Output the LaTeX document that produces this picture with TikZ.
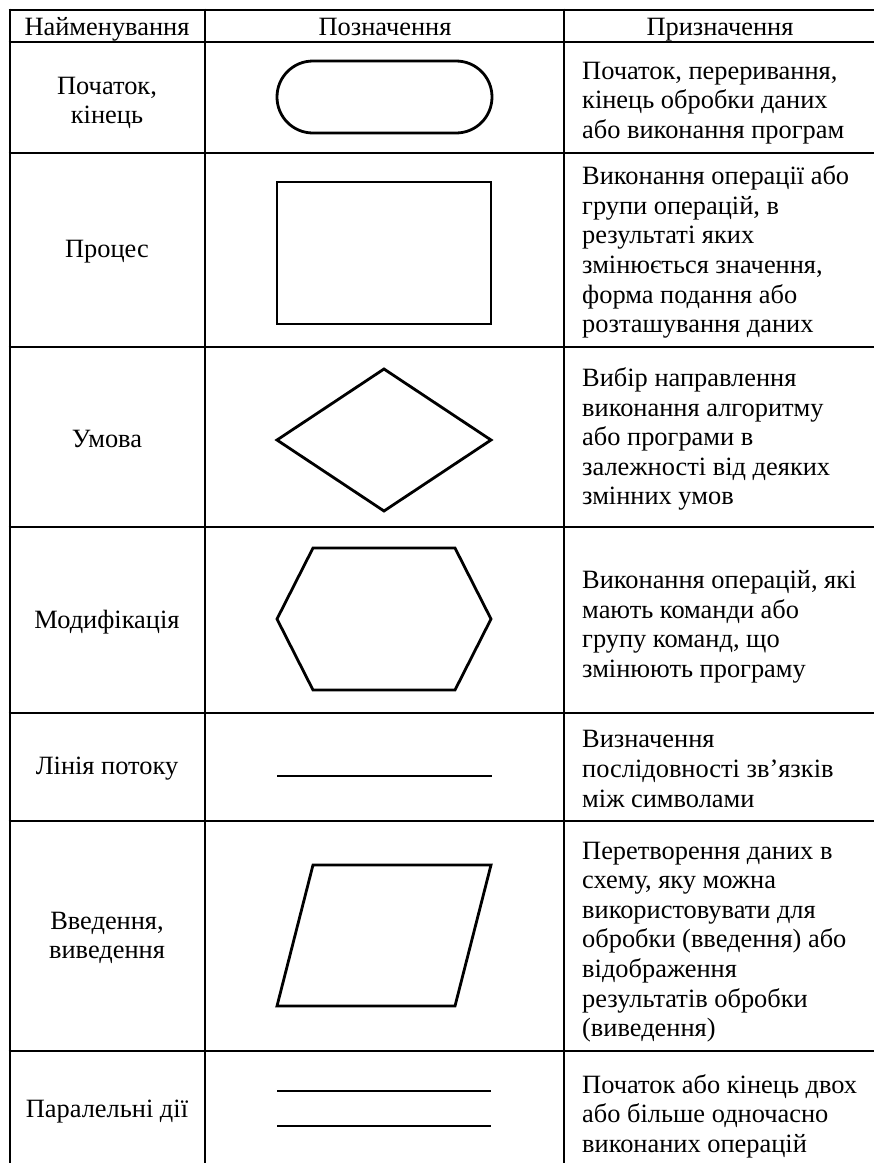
\documentclass[tikz,border=0pt]{standalone}
\usepackage{fontspec}
\setmainfont{Liberation Serif}
\usetikzlibrary{positioning}
\tikzset{
rule/.style={line width=2.8pt},
symbol/.style={draw, line width=2.8pt, line join=miter},
cell/.style={font=\fontsize{26.4}{29.6}\selectfont, inner sep=0pt},
title/.style={cell, align=center},
head/.style={cell, anchor=base},
purpose/.style={cell, align=left, anchor=west},
}

\begin{document}
\begin{tikzpicture}[x=1pt,y=-1pt]
            \useasboundingbox (0,0) rectangle (874,1163);
            % table lines, no right and bottom border
            \foreach \y in {10,42,153,347,527,713,821,1051}
                \draw[rule] (8.6,\y) -- (874,\y);
            \foreach \x in {10,205,564}
                \draw[rule] (\x,8.6) -- (\x,1163);

            % header
            \node[head] (h1) at (107,35) {Найменування};
            \node[head] (h2) at (385,35) {Позначення};
            \node[head] (h3) at (720,35) {Призначення};

            % names
            \node[title] (n1) at (107,103) {Початок,\\кінець};
            \node[title] (n2) at (107,252) {Процес};
            \node[title] (n3) at (107,439) {Умова};
            \node[title] (n4) at (107,622) {Модифікація};
            \node[title] (n5) at (107,769) {Лінія потоку};
            \node[title] (n6) at (107,938) {Введення,\\виведення};
            \node[title] (n7) at (107,1112) {Паралельні дії};

            % symbols
            \draw[symbol, rounded corners=35.9pt] (277,61) rectangle (492,133);
            \draw[symbol] (277,182) rectangle (491,324);
            \draw[symbol] (384,369) -- (491,440) -- (384,511) -- (277,440) -- cycle;
            \draw[symbol] (313,548) -- (455,548) -- (491,619) -- (455,690) -- (313,690) -- (277,619) -- cycle;
            \draw[symbol] (277,776) -- (492,776);
            \draw[symbol] (313,865) -- (491,865) -- (455,1006) -- (277,1006) -- cycle;
            \draw[symbol] (277,1091) -- (491,1091);
            \draw[symbol] (277,1126) -- (491,1126);

            % purposes
            \node[purpose] (p1) at (582,103) {Початок, переривання,\\кінець обробки даних\\або виконання програм};
            \node[purpose] (p2) at (582,252) {Виконання операції або\\групи операцій, в\\результаті яких\\змінюється значення,\\форма подання або\\розташування даних};
            \node[purpose] (p3) at (582,439) {Вибір направлення\\виконання алгоритму\\або програми в\\залежності від деяких\\змінних умов};
            \node[purpose] (p4) at (582,627) {Виконання операцій, які\\мають команди або\\групу команд, що\\змінюють програму};
            \node[purpose] (p5) at (582,769) {Визначення\\послідовності зв’язків\\між символами};
            \node[purpose] (p6) at (582,942) {Перетворення даних в\\схему, яку можна\\використовувати для\\обробки (введення) або\\відображення\\результатів обробки\\(виведення)};
            \node[purpose] (p7) at (582,1116) {Початок або кінець двох\\або більше одночасно\\виконаних операцій};
        \end{tikzpicture}
\end{document}
